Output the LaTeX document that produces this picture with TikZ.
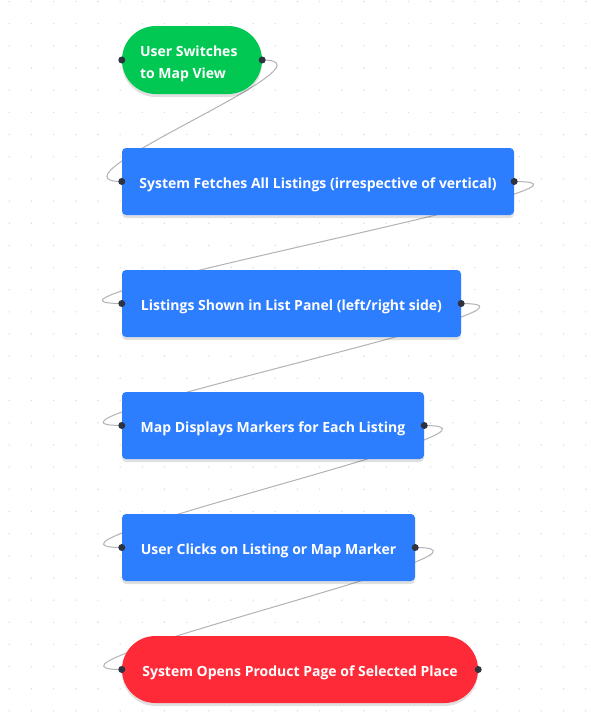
\documentclass[tikz,border=0pt]{standalone}
\usepackage{fontspec}
\setmainfont{Open Sans}
\usetikzlibrary{shadows}
\pgfdeclarelayer{background}
\pgfdeclarelayer{front}
\pgfsetlayers{background,main,front}
\definecolor{gstart}{RGB}{0,200,83}
\definecolor{bstep}{RGB}{45,125,255}
\definecolor{rend}{RGB}{255,42,56}
\definecolor{edgec}{RGB}{178,178,184}
\definecolor{handlec}{RGB}{45,52,64}
\definecolor{dotc}{RGB}{222,222,226}
\tikzset{
  boxbase/.style={text=white, font=\fontsize{14}{19}\selectfont\bfseries, inner sep=0pt,
    drop shadow={shadow xshift=0pt, shadow yshift=-3pt, opacity=0.12, fill=black}},
  stepbox/.style={boxbase, fill=bstep, rounded corners=4pt, minimum height=67pt, text height=13pt, text depth=0pt},
  pillstart/.style={boxbase, font=\fontsize{14}{22}\selectfont\bfseries, fill=gstart, rounded corners=33.9pt, minimum height=68pt, minimum width=140pt},
  pillend/.style={boxbase, fill=rend, rounded corners=33.4pt, minimum height=67pt, text height=13pt, text depth=0pt},
  flow/.style={draw=edgec, line width=1pt},
  handle/.style={fill=handlec},
}
\begin{document}
\begin{tikzpicture}[x=1pt,y=-1pt]
\begin{pgfonlayer}{background}
\fill[white] (0,0) rectangle (591,723);
\foreach \i in {0,...,26} {\foreach \j in {0,...,32} {\fill[dotc] (9.3+\i*22.17, 1.5+\j*22.17) circle (0.8pt);}}
\end{pgfonlayer}
\useasboundingbox (0,0) rectangle (591,723);
\node[pillstart] (s) at (192,60) {\makebox[104pt][l]{\raisebox{-3.5pt}[\height][\depth]{\begin{tabular}{@{}l@{}}User Switches\\to Map View\end{tabular}}}};
\node[stepbox, minimum width=392pt] (a) at (318,181.5) {System Fetches All Listings (irrespective of vertical)};
\node[stepbox, minimum width=339pt] (b) at (291.5,303.5) {Listings Shown in List Panel (left/right side)};
\node[stepbox, minimum width=302pt] (c) at (273,425.5) {Map Displays Markers for Each Listing};
\node[stepbox, minimum width=293pt] (d) at (268.5,547.5) {User Clicks on Listing or Map Marker};
\node[pillend, minimum width=356pt] (e) at (300,669.5) {System Opens Product Page of Selected Place};
\begin{pgfonlayer}{background}
\draw[flow] (s.east) .. controls +(85,0) and +(-85,0) .. (a.west);
\draw[flow] (a.east) .. controls +(140,0) and +(-140,0) .. (b.west);
\draw[flow] (b.east) .. controls +(130,0) and +(-130,0) .. (c.west);
\draw[flow] (c.east) .. controls +(124,0) and +(-124,0) .. (d.west);
\draw[flow] (d.east) .. controls +(122,0) and +(-122,0) .. (e.west);
\end{pgfonlayer}
\begin{pgfonlayer}{front}
\foreach \n in {s,a,b,c,d,e} {\fill[handle] (\n.west) circle (3.5pt); \fill[handle] (\n.east) circle (3.5pt);}
\end{pgfonlayer}
\end{tikzpicture}
\end{document}
